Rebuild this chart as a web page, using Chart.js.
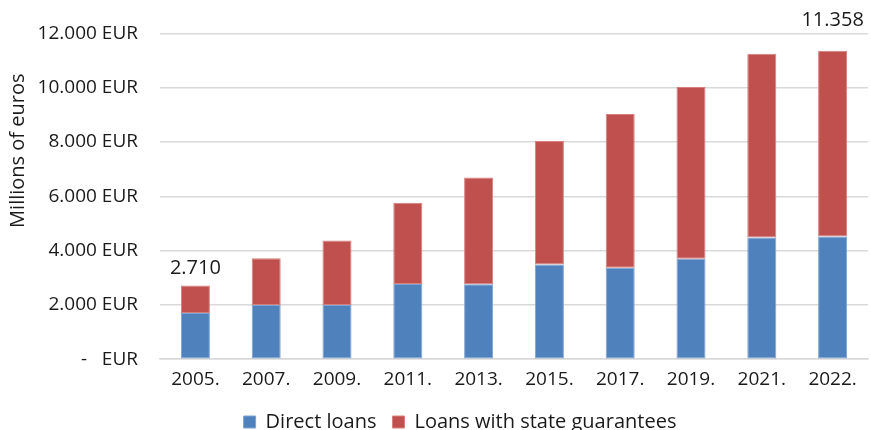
<!DOCTYPE html>
<html>
<head>
<meta charset="utf-8">
<script src="https://cdn.jsdelivr.net/npm/chart.js@4"></script>
<style>
  html, body { margin: 0; padding: 0; background: #fff; }
  #wrap { width: 871px; height: 430px; position: relative; }
</style>
</head>
<body>
<div id="wrap"><canvas id="c"></canvas></div>
<script>
const categories = ['2005.', '2007.', '2009.', '2011.', '2013.', '2015.', '2017.', '2019.', '2021.', '2022.'];
const directLoans = [1700, 2000, 2000, 2770, 2760, 3490, 3370, 3700, 4480, 4520];
const guaranteedLoans = [1010, 1720, 2375, 2990, 3930, 4550, 5660, 6325, 6770, 6838];
const totalLabels = ['2.710', '', '', '', '', '', '', '', '', '11.358'];
const yTicks = [0, 2000, 4000, 6000, 8000, 10000, 12000];
const yTitle = 'Millions of euros';

const FONT = "'Open Sans', 'Noto Sans', sans-serif";
const FS = 19;
const DATA_FS = 20;
const LEGEND_FS = 20;
const TITLE_FS = 20;
const labelOffsets = [7, 0, 0, 0, 0, 0, 0, 0, 0, 21];
const LEGEND_PAD = 16;
const LEGEND_SHIFT_X = 26;
const LEGEND_SHIFT_Y = -4;

function fmt(v) {
  if (v === 0) return '-   EUR';
  return String(v).replace(/\B(?=(\d{3})+(?!\d))/g, '.') + ' EUR';
}

const totalLabelPlugin = {
  id: 'totalLabels',
  afterLayout(chart) {
    const lg = chart.legend;
    if (lg) {
      lg.left += LEGEND_SHIFT_X; lg.right += LEGEND_SHIFT_X;
      lg.top += LEGEND_SHIFT_Y; lg.bottom += LEGEND_SHIFT_Y;
    }
  },
  afterDraw(chart) {
    const ctx = chart.ctx;
    const ca = chart.chartArea;
    ctx.save();
    ctx.font = TITLE_FS + 'px ' + FONT;
    ctx.fillStyle = '#1a1a1a';
    ctx.textAlign = 'center';
    ctx.textBaseline = 'middle';
    ctx.translate(18, ca.top + (ca.bottom - ca.top) * 0.36);
    ctx.rotate(-Math.PI / 2);
    ctx.fillText(yTitle, 0, 0);
    ctx.restore();
  },
  afterDatasetsDraw(chart) {
    const ctx = chart.ctx;
    const meta = chart.getDatasetMeta(1);
    ctx.save();
    ctx.font = DATA_FS + 'px ' + FONT;
    ctx.fillStyle = '#1a1a1a';
    ctx.textAlign = 'center';
    ctx.textBaseline = 'bottom';
    totalLabels.forEach((t, i) => {
      if (!t) return;
      const el = meta.data[i];
      ctx.fillText(t, el.x, el.y - labelOffsets[i]);
    });
    ctx.restore();
  }
};

new Chart(document.getElementById('c'), {
  type: 'bar',
  data: {
    labels: categories,
    datasets: [
      {
        label: 'Direct loans',
        data: directLoans,
        backgroundColor: '#4F81BD',
        borderColor: '#7EA3D2',
        borderWidth: 1,
        borderSkipped: false,
        barPercentage: 0.82,
        categoryPercentage: 0.5
      },
      {
        label: 'Loans with state guarantees',
        data: guaranteedLoans,
        backgroundColor: '#C0504D',
        borderColor: '#D6807D',
        borderWidth: 1,
        borderSkipped: false,
        barPercentage: 0.82,
        categoryPercentage: 0.5
      }
    ]
  },
  options: {
    responsive: true,
    maintainAspectRatio: false,
    animation: false,
    layout: { padding: { top: 24, right: 3, left: 0, bottom: -16 } },
    plugins: {
      legend: {
        position: 'bottom',
        labels: {
          font: { family: FONT, size: LEGEND_FS },
          color: '#1a1a1a',
          boxWidth: 12,
          boxHeight: 12,
          padding: LEGEND_PAD
        }
      },
      tooltip: { enabled: false }
    },
    scales: {
      x: {
        stacked: true,
        grid: { display: false, drawTicks: false },
        border: { display: true, color: '#D9D9D9', width: 1.5 },
        ticks: {
          font: { family: FONT, size: FS },
          color: '#1a1a1a',
          padding: 9,
          maxRotation: 0
        }
      },
      y: {
        stacked: true,
        min: 0,
        max: 12000,
        afterBuildTicks(axis) { axis.ticks = yTicks.map(v => ({ value: v })); },
        afterFit(axis) { axis.width = 160; },
        grid: { color: '#D9D9D9', lineWidth: 1.5, drawTicks: false },
        border: { display: false },
        title: { display: false },
        ticks: {
          font: { family: FONT, size: FS },
          color: '#1a1a1a',
          padding: 22,
          callback: (v) => fmt(v)
        }
      }
    }
  },
  plugins: [totalLabelPlugin]
});
</script>
</body>
</html>
